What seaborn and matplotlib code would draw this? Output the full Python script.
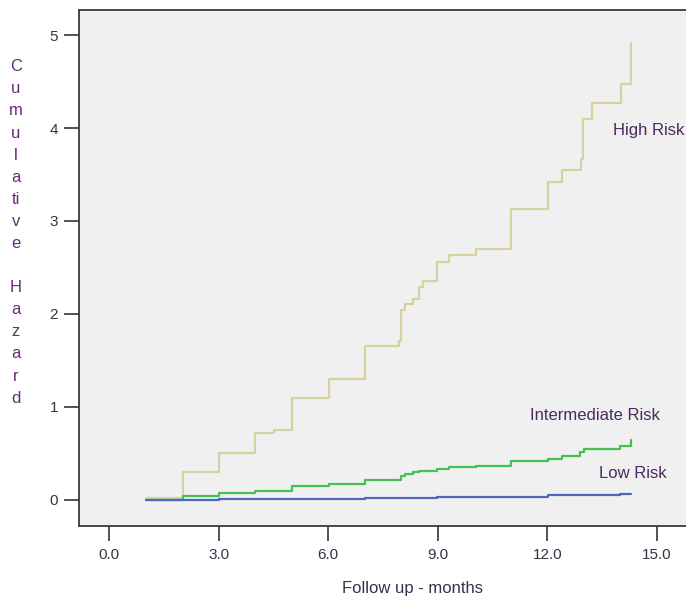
import matplotlib
matplotlib.use("Agg")
import matplotlib.pyplot as plt
import pandas as pd
import seaborn as sns

# Cumulative hazard step functions by risk group (follow-up in months)
high_t = [1.0, 2.02, 3.01, 4.01, 4.52, 5.01, 6.01, 7.01, 7.93, 7.99, 8.10, 8.31, 8.50, 8.60,
          8.99, 9.31, 10.04, 11.02, 12.01, 12.40, 12.91, 12.99, 13.22, 14.01, 14.29]
high_h = [0.025, 0.30, 0.50, 0.72, 0.75, 1.10, 1.30, 1.66, 1.71, 2.04, 2.11, 2.16, 2.29, 2.35,
          2.56, 2.63, 2.70, 3.13, 3.42, 3.55, 3.67, 4.10, 4.27, 4.47, 4.91]

inter_t = [1.0, 2.03, 3.02, 4.01, 5.01, 6.01, 7.01, 7.99, 8.10, 8.31, 8.50, 8.99, 9.32,
           10.05, 11.00, 12.01, 12.41, 12.90, 13.01, 13.99, 14.29]
inter_h = [0.0, 0.043, 0.070, 0.097, 0.154, 0.168, 0.22, 0.26, 0.28, 0.30, 0.31, 0.33, 0.35,
           0.36, 0.42, 0.44, 0.47, 0.52, 0.55, 0.58, 0.645]

low_t = [1.0, 3.02, 7.01, 8.99, 12.02, 14.0, 14.3]
low_h = [0.0, 0.010, 0.018, 0.035, 0.052, 0.068, 0.068]

groups = ["High Risk", "Intermediate Risk", "Low Risk"]
x_ticks = [0.0, 3.0, 6.0, 9.0, 12.0, 15.0]
y_ticks = [0, 1, 2, 3, 4, 5]
y_label_lines = ["C", "u", "m", "u", "l", "a", "ti", "v", "e", "", "H", "a", "z", "a", "r", "d"]

df = pd.concat([
    pd.DataFrame({"months": high_t, "hazard": high_h, "group": groups[0]}),
    pd.DataFrame({"months": inter_t, "hazard": inter_h, "group": groups[1]}),
    pd.DataFrame({"months": low_t, "hazard": low_h, "group": groups[2]}),
], ignore_index=True)

palette = {"High Risk": "#D8D2A2", "Intermediate Risk": "#44C055", "Low Risk": "#4E68BE"}

sns.set_style("white", {"axes.facecolor": "#F0F0F0"})
plt.rcParams["font.family"] = ["Liberation Sans", "DejaVu Sans"]

W, H = 686, 604
fig = plt.figure(figsize=(W / 100, H / 100), dpi=100)
ax = fig.add_axes([79 / W, (H - 526) / H, 610 / W, (526 - 10) / H])

sns.lineplot(data=df, x="months", y="hazard", hue="group", palette=palette,
             estimator=None, drawstyle="steps-post", linewidth=1.6, legend=False, ax=ax)

ax.set_xlim(-0.821, 15.88)
ax.set_ylim(-0.28, 5.269)
ax.set_xticks(x_ticks)
ax.set_xticklabels([f"{v:.1f}" for v in x_ticks])
ax.set_yticks(y_ticks)
ax.set_yticklabels([str(v) for v in y_ticks])
ax.tick_params(axis="both", which="major", bottom=True, left=True, direction="out",
               length=11, width=1.3, color="#444444", labelsize=11, labelcolor="#333344")
ax.tick_params(axis="x", pad=5)
ax.tick_params(axis="y", pad=4)
for side in ["left", "bottom", "top", "right"]:
    ax.spines[side].set_color("#3a3a3a")
    ax.spines[side].set_linewidth(1.3)
ax.set_xlabel("")
ax.set_ylabel("")

label_color = "#4A2A5E"
ax.text(13.79, 3.97, "High Risk", fontsize=12, color=label_color, ha="left", va="center")
ax.text(11.54, 0.91, "Intermediate Risk", fontsize=12, color=label_color, ha="left", va="center")
ax.text(13.42, 0.28, "Low Risk", fontsize=12, color=label_color, ha="left", va="center")

fig.text(413 / W, 1 - 588 / H, "Follow up - months", fontsize=12, color="#3A3050",
         ha="center", va="center")

for i, ch in enumerate(y_label_lines):
    if ch:
        fig.text(16 / W, 1 - (66.7 + 22.1 * i) / H, ch, fontsize=12, color="#6A2A7A",
                 ha="center", va="center")

fig.savefig("out.png", dpi=100, facecolor="white")
